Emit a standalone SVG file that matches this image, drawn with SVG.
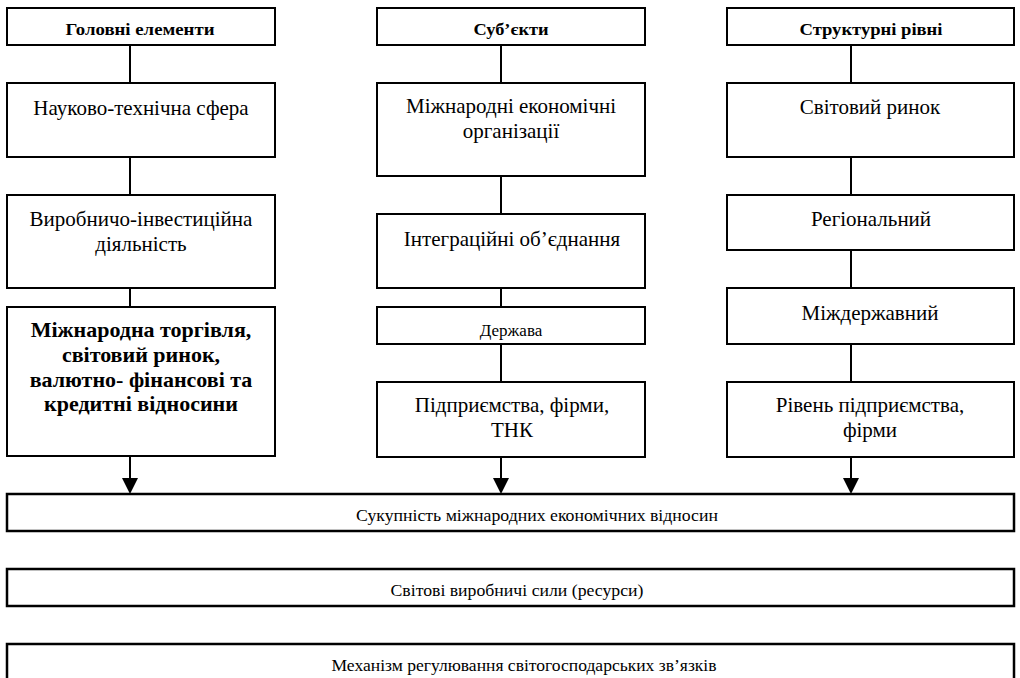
<svg xmlns="http://www.w3.org/2000/svg" width="1020" height="678" viewBox="0 0 1020 678">
<style>
.box{fill:#fff;stroke:#000;stroke-width:2}
.wide{fill:#fff;stroke:#000;stroke-width:2.5}
text{font-family:"Liberation Serif","Times New Roman","DejaVu Serif",serif;fill:#000;text-anchor:middle}
.hd{font-weight:bold;font-size:17px}
.tx{font-size:21px}
.bd{font-weight:bold;font-size:22px}
.sm{font-size:17px}
.ln{stroke:#000;stroke-width:2;fill:none}
</style>
<g id="connectors">
<line class="ln" x1="130" y1="45" x2="130" y2="83"/>
<line class="ln" x1="130" y1="157" x2="130" y2="195"/>
<line class="ln" x1="130" y1="288" x2="130" y2="307"/>
<line class="ln" x1="130" y1="456" x2="130" y2="478"/>
<path d="M122,478 L138,478 L130,494 Z" fill="#000"/>
<line class="ln" x1="501" y1="45" x2="501" y2="83"/>
<line class="ln" x1="501" y1="176" x2="501" y2="214"/>
<line class="ln" x1="501" y1="288" x2="501" y2="307"/>
<line class="ln" x1="501" y1="344" x2="501" y2="382"/>
<line class="ln" x1="501" y1="457" x2="501" y2="478"/>
<path d="M493,478 L509,478 L501,494 Z" fill="#000"/>
<line class="ln" x1="851" y1="45" x2="851" y2="83"/>
<line class="ln" x1="851" y1="157" x2="851" y2="195"/>
<line class="ln" x1="851" y1="250" x2="851" y2="288"/>
<line class="ln" x1="851" y1="344" x2="851" y2="382"/>
<line class="ln" x1="851" y1="457" x2="851" y2="478"/>
<path d="M843,478 L859,478 L851,494 Z" fill="#000"/>
</g>
<g id="n-golovni">
<rect class="box" x="7" y="8" width="268" height="37"/>
<text class="hd" x="140" y="35" textLength="149" lengthAdjust="spacingAndGlyphs">Головні елементи</text>
</g>
<g id="n-naukovo">
<rect class="box" x="7" y="83" width="268" height="74"/>
<text class="tx" x="141" y="115">Науково-технічна сфера</text>
</g>
<g id="n-vyrobnycho">
<rect class="box" x="7" y="195" width="268" height="93"/>
<text class="tx" x="141" y="226">Виробничо-інвестиційна</text>
<text class="tx" x="141" y="251">діяльність</text>
</g>
<g id="n-mizhnarodna">
<rect class="box" x="7" y="307" width="268" height="149"/>
<text class="bd" x="141" y="337">Міжнародна торгівля,</text>
<text class="bd" x="141" y="362">світовий ринок,</text>
<text class="bd" x="141" y="387">валютно- фінансові та</text>
<text class="bd" x="141" y="411">кредитні відносини</text>
</g>
<g id="n-subiekty">
<rect class="box" x="377" y="8" width="268" height="37"/>
<text class="hd" x="511" y="35" textLength="75" lengthAdjust="spacingAndGlyphs">Суб’єкти</text>
</g>
<g id="n-orhanizatsii">
<rect class="box" x="377" y="83" width="268" height="93"/>
<text class="tx" x="511" y="113">Міжнародні економічні</text>
<text class="tx" x="511" y="138">організації</text>
</g>
<g id="n-intehratsiini">
<rect class="box" x="377" y="214" width="268" height="74"/>
<text class="tx" x="512" y="246">Інтеграційні об’єднання</text>
</g>
<g id="n-derzhava">
<rect class="box" x="377" y="307" width="268" height="37"/>
<text class="sm" x="511" y="336">Держава</text>
</g>
<g id="n-pidpryiemstva">
<rect class="box" x="377" y="382" width="268" height="75"/>
<text class="tx" x="512" y="412">Підприємства, фірми,</text>
<text class="tx" x="512" y="437">ТНК</text>
</g>
<g id="n-strukturni">
<rect class="box" x="727" y="8" width="287" height="37"/>
<text class="hd" x="871" y="35" textLength="143" lengthAdjust="spacingAndGlyphs">Структурні рівні</text>
</g>
<g id="n-svitovyi">
<rect class="box" x="727" y="83" width="287" height="74"/>
<text class="tx" x="870" y="114">Світовий ринок</text>
</g>
<g id="n-rehionalnyi">
<rect class="box" x="727" y="195" width="287" height="55"/>
<text class="tx" x="871" y="226">Регіональний</text>
</g>
<g id="n-mizhderzhavnyi">
<rect class="box" x="727" y="288" width="287" height="56"/>
<text class="tx" x="870" y="320">Міждержавний</text>
</g>
<g id="n-riven">
<rect class="box" x="727" y="382" width="287" height="75"/>
<text class="tx" x="870" y="412">Рівень підприємства,</text>
<text class="tx" x="870" y="437">фірми</text>
</g>
<g id="n-sukupnist">
<rect class="wide" x="7" y="494" width="1007" height="37"/>
<text class="sm" x="537" y="521" textLength="362" lengthAdjust="spacingAndGlyphs">Сукупність міжнародних економічних відносин</text>
</g>
<g id="n-svitovi-syly">
<rect class="wide" x="7" y="569" width="1007" height="37"/>
<text class="sm" x="517" y="596" textLength="253" lengthAdjust="spacingAndGlyphs">Світові виробничі сили (ресурси)</text>
</g>
<g id="n-mekhanizm">
<rect class="wide" x="7" y="644" width="1007" height="50"/>
<text class="sm" x="524" y="671" textLength="385" lengthAdjust="spacingAndGlyphs">Механізм регулювання світогосподарських зв’язків</text>
</g>
</svg>
